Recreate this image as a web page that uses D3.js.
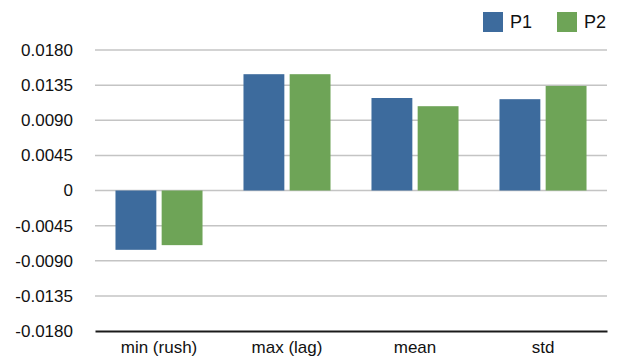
<!DOCTYPE html>
<html>
<head>
<meta charset="utf-8">
<script src="https://cdn.jsdelivr.net/npm/d3@7"></script>
<style>
  body { margin: 0; background: #fff; }
  svg { display: block; font-family: "Liberation Sans", Arial, sans-serif; }
</style>
</head>
<body>
<svg id="chart"></svg>
<script>
let categories = ["min (rush)", "max (lag)", "mean", "std"];
let seriesNames = ["P1", "P2"];
let p1Values = [-0.0076, 0.0149, 0.01185, 0.0117];
let p2Values = [-0.0070, 0.0149, 0.0108, 0.0134];
let yTicks = [-0.018, -0.0135, -0.009, -0.0045, 0, 0.0045, 0.009, 0.0135, 0.018];
let colors = ["#3d6b9d", "#6ea457"];

function BarChart() {
    let self = this;

    function draw() {
        let margin = {top: 50, right: 14, bottom: 27, left: 95};
        let width = 621 - margin.left - margin.right;
        let height = 358 - margin.top - margin.bottom;

        let svg = d3.select('#chart').attr("width", 621).attr("height", 358);
        let plot = svg.append("g")
            .attr("transform", "translate(" + margin.left + "," + margin.top + ")");

        self.x = d3.scaleBand().domain(categories).range([0, width]).paddingInner(0.32).paddingOuter(0.16);
        self.x1 = d3.scaleBand().domain(seriesNames).range([0, self.x.bandwidth()]).paddingInner(0.115);
        self.y = d3.scaleLinear().domain([-0.018, 0.018]).range([height, 0]);

        // gridlines
        plot.append("g").selectAll("line")
            .data(yTicks.filter(t => t !== -0.018))
            .enter().append("line")
            .attr("x1", 0).attr("x2", width)
            .attr("y1", d => self.y(d)).attr("y2", d => self.y(d))
            .attr("stroke", "#c4c4c4").attr("stroke-width", 1.5);

        // y axis labels
        let fmt = d => d === 0 ? "0" : d3.format(".4f")(d).replace("−", "-");
        let yAxis = plot.append("g")
            .call(d3.axisLeft(self.y).tickValues(yTicks).tickFormat(fmt).tickSize(0).tickPadding(22));
        yAxis.select(".domain").remove();
        yAxis.selectAll("text").attr("font-size", 17).attr("fill", "#111")
            .style("font-family", "'Liberation Sans', Arial, sans-serif");

        // bars
        let series = [p1Values, p2Values];
        let groups = plot.append("g").selectAll("g")
            .data(categories)
            .enter().append("g")
            .attr("transform", d => "translate(" + self.x(d) + ",0)");
        groups.selectAll("rect")
            .data((d, i) => seriesNames.map((s, j) => ({s: s, v: series[j][i], j: j})))
            .enter().append("rect")
            .attr("x", d => self.x1(d.s))
            .attr("width", self.x1.bandwidth())
            .attr("y", d => self.y(Math.max(0, d.v)))
            .attr("height", d => Math.abs(self.y(d.v) - self.y(0)))
            .attr("fill", d => colors[d.j]);

        // bottom axis
        let xAxis = plot.append("g")
            .attr("transform", "translate(0," + height + ")")
            .call(d3.axisBottom(self.x).tickSize(0).tickPadding(10));
        xAxis.select(".domain").attr("stroke", "#1a1a1a").attr("stroke-width", 2);
        xAxis.selectAll("text").attr("font-size", 17).attr("fill", "#111")
            .style("font-family", "'Liberation Sans', Arial, sans-serif");

        // legend
        let legend = svg.append("g");
        let lx = [483, 557];
        seriesNames.forEach(function(s, i) {
            legend.append("rect").attr("x", lx[i]).attr("y", 12).attr("width", 20).attr("height", 20).attr("fill", colors[i]);
            legend.append("text").attr("x", lx[i] + 27).attr("y", 28).attr("font-size", 18).attr("fill", "#111").text(s);
        });
    }

    return { draw };
}

BarChart.call({}).draw();
</script>
</body>
</html>
